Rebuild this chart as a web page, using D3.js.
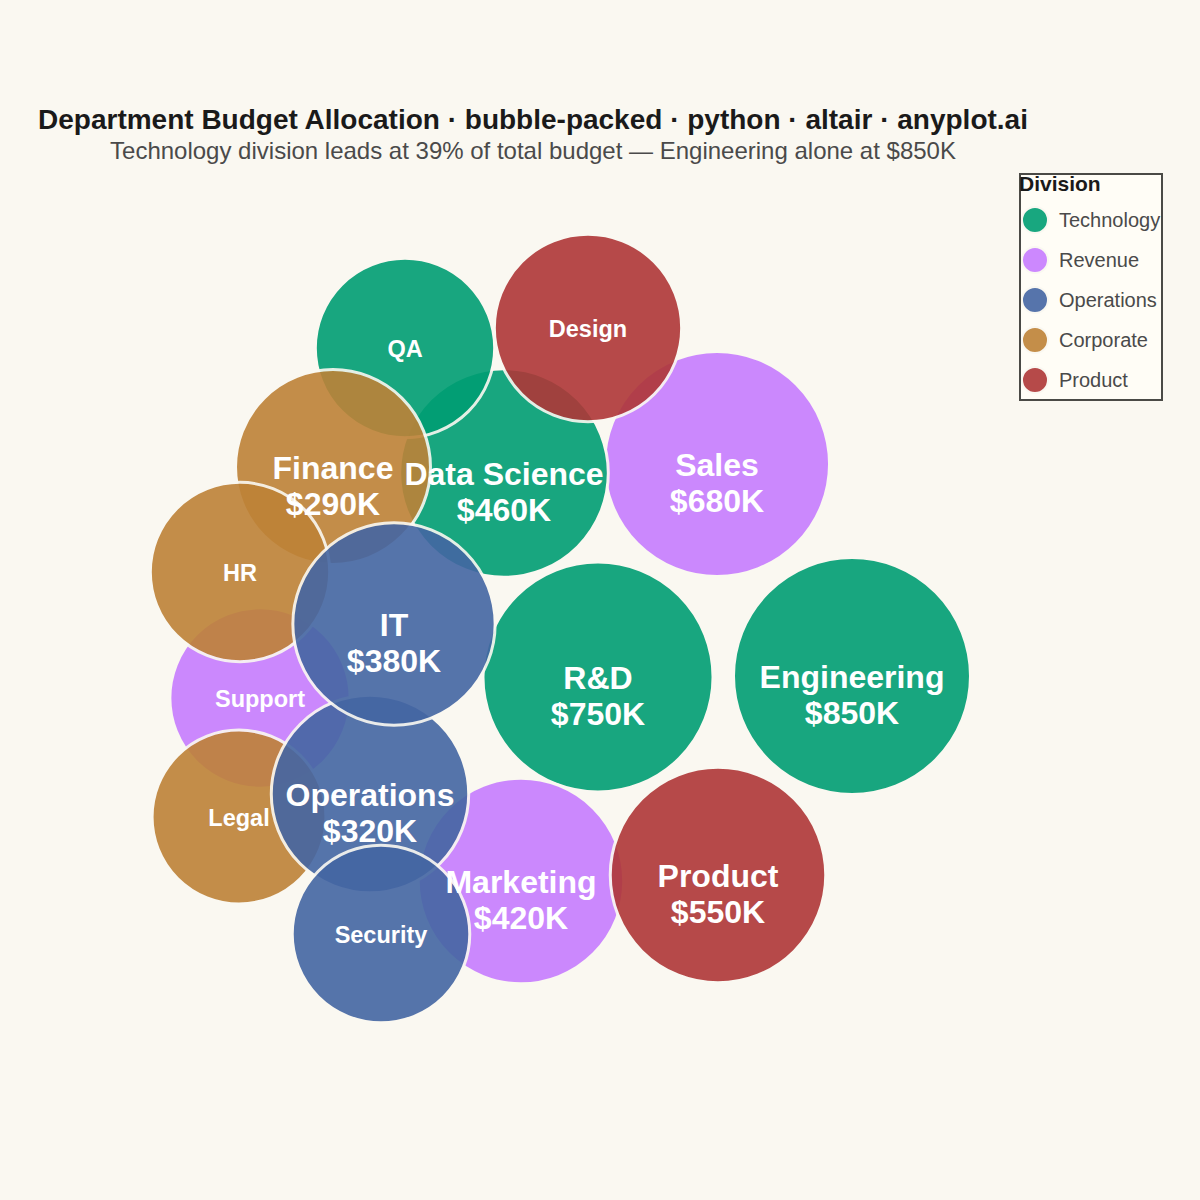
<!DOCTYPE html>
<html lang="en">
<head>
  <meta charset="UTF-8">
  <title>Department Budget Allocation</title>
  <style>
    * { margin: 0; padding: 0; box-sizing: border-box; }
    body { background: #FAF8F1; font-family: "Liberation Sans", Arial, sans-serif; }
    #chart { width: 1200px; height: 1200px; }
  </style>
</head>
<body>
  <div id="chart"></div>

  <script src="https://d3js.org/d3.v7.min.js"></script>
  <script>
  // departments, in drawing order
  var departments = ["Engineering", "R&D", "Sales", "Marketing", "Product", "Data Science", "QA", "Design",
                     "Finance", "Support", "HR", "Legal", "Operations", "Security", "IT"];
  var divisionOf = ["Technology", "Technology", "Revenue", "Revenue", "Product", "Technology", "Technology", "Product",
                    "Corporate", "Revenue", "Corporate", "Corporate", "Operations", "Operations", "Operations"];
  // budget in $K
  var budgets = [850, 750, 680, 420, 550, 460, 110, 200, 290, 120, 110, 50, 320, 90, 380];
  // packed layout coordinates (y up), as produced by the packing step
  var layoutX = [319, 65, 184, -12, 185, -29, -128, 55, -200, -273, -293, -294, -163, -152, -139];
  var layoutY = [-36, -37, 176, -241, -235, 167, 292, 312, 173, -58, 68, -177, -154, -294, 16];

  var divisions = ["Technology", "Revenue", "Operations", "Corporate", "Product"];
  var palette = ["#009E73", "#C77CFF", "#4466A3", "#BE8237", "#AF3737"];

  var labelMin = 250; // show value under the name from this budget up

  var W = 1200, H = 1200;
  var bg = "#FAF8F1";
  var svg = d3.select("#chart").append("svg")
    .attr("width", W)
    .attr("height", H);

  svg.append("rect")
    .attr("width", W).attr("height", H)
    .attr("fill", bg);

  var x = d3.scaleLinear().domain([-480, 480]).range([53, 1013]);
  var y = d3.scaleLinear().domain([-480, 480]).range([1120, 160]);

  // circle area grows linearly with budget
  var area = d3.scaleLinear().domain([0, 850]).range([7150, 14042]);
  function radius(v) { return Math.sqrt(area(v)); }

  var color = d3.scaleOrdinal().domain(divisions).range(palette);

  var data = departments.map(function(d, i) {
    return { name: d, division: divisionOf[i], budget: budgets[i], x: layoutX[i], y: layoutY[i] };
  });

  // title
  var midX = (x.range()[0] + x.range()[1]) / 2;
  svg.append("text")
    .attr("x", midX)
    .attr("y", 129)
    .attr("text-anchor", "middle")
    .style("font-size", "28px")
    .style("font-weight", "bold")
    .attr("fill", "#1A1A1A")
    .text("Department Budget Allocation · bubble-packed · python · altair · anyplot.ai");

  svg.append("text")
    .attr("x", midX)
    .attr("y", 159)
    .attr("text-anchor", "middle")
    .style("font-size", "24px")
    .attr("fill", "#4A4A4A")
    .text("Technology division leads at 39% of total budget — Engineering alone at $850K");

  // bubbles
  svg.append("g")
    .selectAll("circle")
    .data(data)
    .enter()
    .append("circle")
      .attr("cx", function(d) { return x(d.x); })
      .attr("cy", function(d) { return y(d.y); })
      .attr("r", function(d) { return radius(d.budget); })
      .attr("fill", function(d) { return color(d.division); })
      .attr("stroke", bg)
      .attr("stroke-width", 3)
      .attr("opacity", 0.9);

  // labels on top of all bubbles
  var labels = svg.append("g")
    .attr("fill", "#FFFFFF")
    .attr("text-anchor", "middle")
    .style("font-weight", "bold");

  data.forEach(function(d) {
    var cx = x(d.x), cy = y(d.y);
    if (d.budget >= labelMin) {
      labels.append("text")
        .attr("x", cx).attr("y", cy + 11.5)
        .style("font-size", "32px")
        .text(d.name);
      labels.append("text")
        .attr("x", cx).attr("y", cy + 47.5)
        .style("font-size", "32px")
        .text("$" + d.budget + "K");
    } else {
      labels.append("text")
        .attr("x", cx).attr("y", cy + 8.5)
        .style("font-size", "23.5px")
        .text(d.name);
    }
  });

  // legend
  var legend = svg.append("g").attr("transform", "translate(1020,174)");
  legend.append("rect")
    .attr("width", 142).attr("height", 226)
    .attr("fill", "#FFFDF6")
    .attr("stroke", "#4A4A46")
    .attr("stroke-width", 2);
  legend.append("text")
    .attr("x", -1).attr("y", 17)
    .style("font-size", "21px")
    .style("font-weight", "bold")
    .attr("fill", "#1A1A1A")
    .text("Division");

  var item = legend.selectAll(".item")
    .data(divisions)
    .enter()
    .append("g")
      .attr("class", "item")
      .attr("transform", function(d, i) { return "translate(0," + (46 + i * 40) + ")"; });
  item.append("circle")
    .attr("cx", 15).attr("r", 13)
    .attr("fill", function(d) { return color(d); })
    .attr("opacity", 0.9)
    .attr("stroke", bg)
    .attr("stroke-width", 2);
  item.append("text")
    .attr("x", 39).attr("y", 7)
    .style("font-size", "20px")
    .attr("fill", "#4A4A4A")
    .text(function(d) { return d; });
  </script>
</body>
</html>
